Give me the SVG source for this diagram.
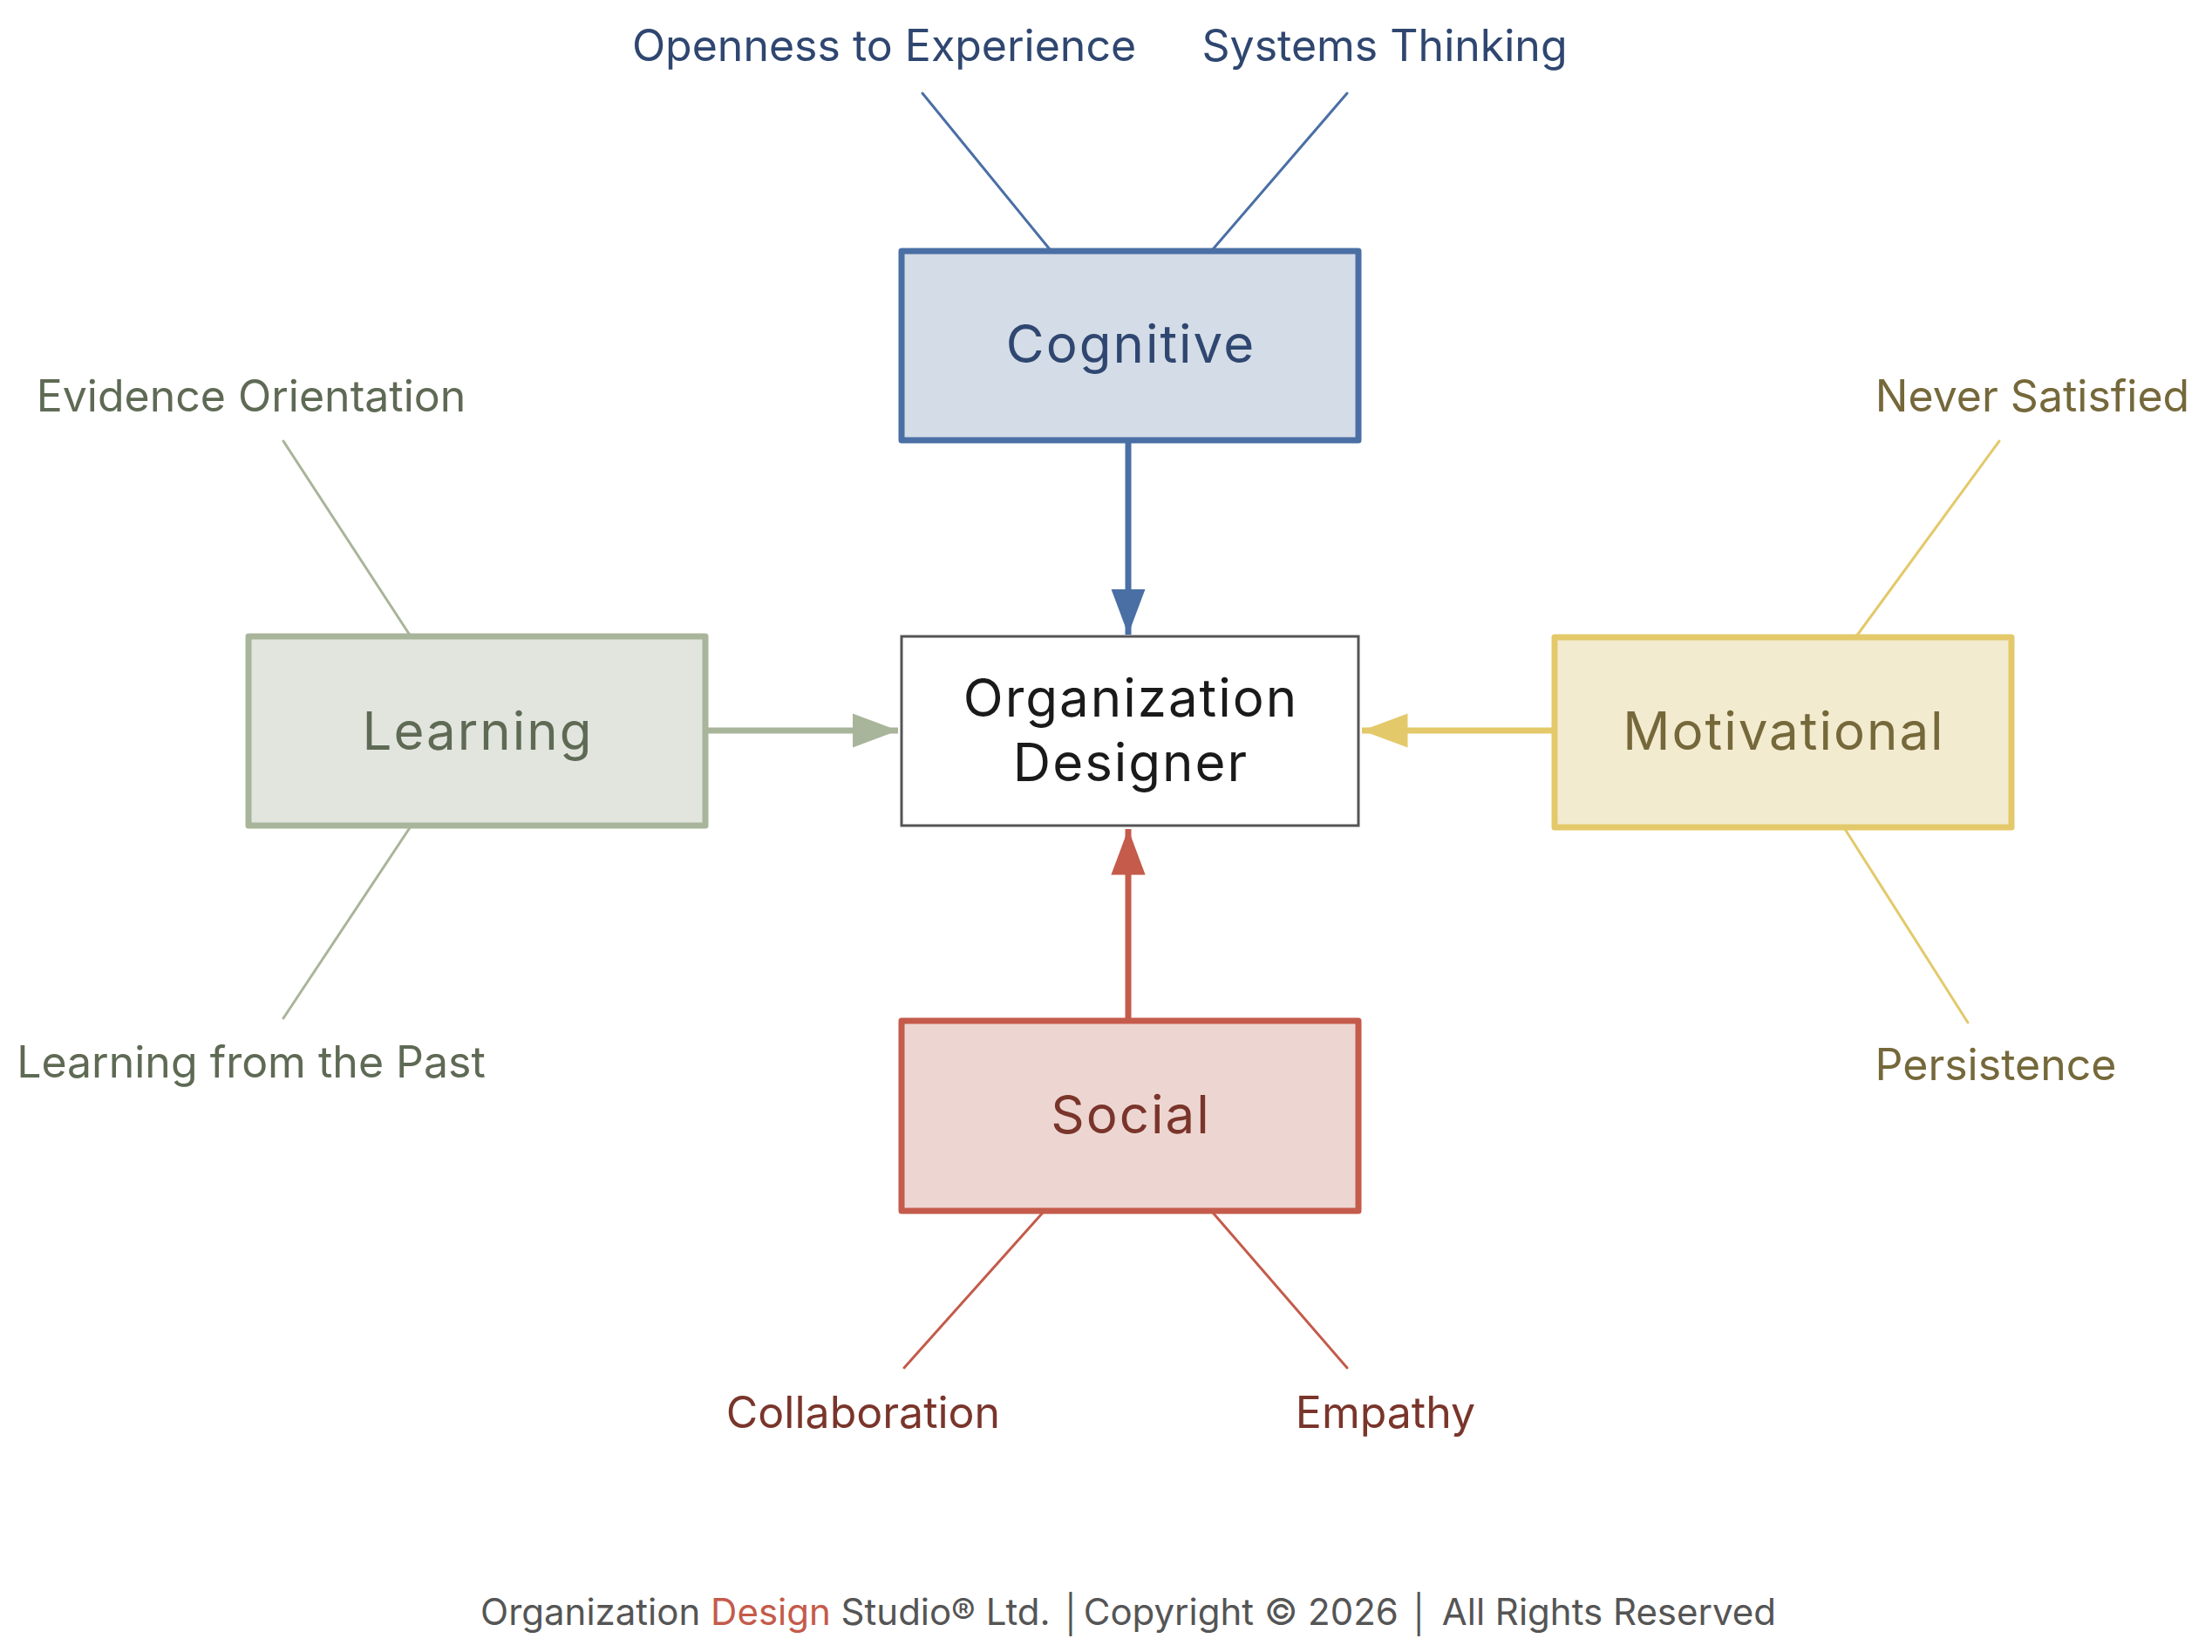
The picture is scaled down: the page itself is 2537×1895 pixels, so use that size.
<svg xmlns="http://www.w3.org/2000/svg" width="2537" height="1895" viewBox="0 0 2537 1895">
<style>
.node text{font-family:Inter,"Noto Sans",sans-serif;text-anchor:middle}
.nl{font-size:60px;letter-spacing:2px}
.sub{font-family:Inter,"Noto Sans",sans-serif;font-size:50px;text-anchor:middle}
.thin{stroke-width:3;fill:none;stroke-linecap:round}
.main{stroke-width:7;fill:none}
.box{stroke-width:7;stroke-linejoin:round}
.cog{fill:#2F4770}.cogs{stroke:#4A6FA5}
.lrn{fill:#5F6A55}.lrns{stroke:#A8B59A}
.mot{fill:#75683A}.mots{stroke:#E3C96A}
.soc{fill:#7A352B}.socs{stroke:#C45B4B}
.foot{font-family:Inter,"Noto Sans",sans-serif;font-size:42px;fill:#555;text-anchor:middle}
</style>
<defs>
<marker id="ab" viewBox="0 0 10 10" refX="10" refY="5" markerWidth="7.5" markerHeight="5.6" preserveAspectRatio="none" markerUnits="strokeWidth" orient="auto"><path d="M0,0 L10,5 L0,10 z" fill="#4A6FA5"/></marker>
<marker id="ag" viewBox="0 0 10 10" refX="10" refY="5" markerWidth="7.5" markerHeight="5.6" preserveAspectRatio="none" markerUnits="strokeWidth" orient="auto"><path d="M0,0 L10,5 L0,10 z" fill="#A8B59A"/></marker>
<marker id="ay" viewBox="0 0 10 10" refX="10" refY="5" markerWidth="7.5" markerHeight="5.6" preserveAspectRatio="none" markerUnits="strokeWidth" orient="auto"><path d="M0,0 L10,5 L0,10 z" fill="#E3C96A"/></marker>
<marker id="ar" viewBox="0 0 10 10" refX="10" refY="5" markerWidth="7.5" markerHeight="5.6" preserveAspectRatio="none" markerUnits="strokeWidth" orient="auto"><path d="M0,0 L10,5 L0,10 z" fill="#C45B4B"/></marker>
</defs>
<rect width="2537" height="1895" fill="#fff"/>
<g id="connectors">
<line class="thin cogs" x1="1058" y1="107" x2="1204" y2="286"/>
<line class="thin cogs" x1="1545" y1="107" x2="1391" y2="286"/>
<line class="thin lrns" x1="325" y1="506" x2="471" y2="730"/>
<line class="thin lrns" x1="471" y1="948" x2="325" y2="1168"/>
<line class="thin mots" x1="2293" y1="506" x2="2129" y2="730"/>
<line class="thin mots" x1="2116" y1="951" x2="2257" y2="1173"/>
<line class="thin socs" x1="1196" y1="1391" x2="1037" y2="1569"/>
<line class="thin socs" x1="1391" y1="1391" x2="1545" y2="1569"/>
<line class="main cogs" x1="1294" y1="505" x2="1294" y2="728" marker-end="url(#ab)"/>
<line class="main lrns" x1="809" y1="838" x2="1030" y2="838" marker-end="url(#ag)"/>
<line class="main mots" x1="1783" y1="838" x2="1562" y2="838" marker-end="url(#ay)"/>
<line class="main socs" x1="1294" y1="1171" x2="1294" y2="951" marker-end="url(#ar)"/>
</g>
<g id="center" class="node">
<rect x="1034" y="730" width="524" height="217" fill="#fff" stroke="#555" stroke-width="3"/>
<text class="nl" x="1297" y="822" fill="#1a1a1a">Organization</text>
<text class="nl" x="1297" y="896" fill="#1a1a1a">Designer</text>
</g>
<g id="cognitive" class="node">
<rect class="box cogs" x="1034" y="288" width="524" height="217" fill="#D4DCE7"/>
<text class="nl cog" x="1297" y="416">Cognitive</text>
</g>
<g id="learning" class="node">
<rect class="box lrns" x="285" y="730" width="524" height="217" fill="#E2E5DE"/>
<text class="nl lrn" x="548" y="860">Learning</text>
</g>
<g id="motivational" class="node">
<rect class="box mots" x="1783" y="731" width="524" height="218" fill="#F3EBCF"/>
<text class="nl mot" x="2046" y="860">Motivational</text>
</g>
<g id="social" class="node">
<rect class="box socs" x="1034" y="1171" width="524" height="218" fill="#EDD6D2"/>
<text class="nl soc" x="1297" y="1300">Social</text>
</g>
<g id="labels">
<text class="sub cog" x="1014" y="70">Openness to Experience</text>
<text class="sub cog" x="1588" y="70">Systems Thinking</text>
<text class="sub lrn" x="288" y="472">Evidence Orientation</text>
<text class="sub lrn" x="288" y="1236">Learning from the Past</text>
<text class="sub mot" x="2331" y="472">Never Satisfied</text>
<text class="sub mot" x="2289" y="1239">Persistence</text>
<text class="sub soc" x="990" y="1638">Collaboration</text>
<text class="sub soc" x="1589" y="1638">Empathy</text>
</g>
<text class="foot" x="1294" y="1864">Organization <tspan fill="#C45B4B">Design</tspan> Studio® Ltd. │Copyright © 2026 │ All Rights Reserved</text>
</svg>
